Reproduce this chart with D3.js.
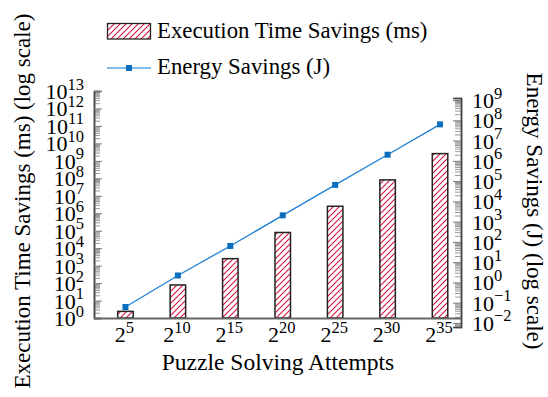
<!DOCTYPE html>
<html>
<head>
<meta charset="utf-8">
<script src="https://cdn.jsdelivr.net/npm/d3@7"></script>
<style>
  body { margin: 0; background: #fff; }
  svg { font-family: "Liberation Serif", "DejaVu Serif", serif; }
</style>
</head>
<body>
<div id="chart"></div>
<script>
// exponents of the attempt counts (2^n)
const attempts = [5, 10, 15, 20, 25, 30, 35];
const timeSavings = [2.4, 78, 2500, 79000, 2.5e6, 8.1e7, 2.6e9];
const energySavings = [0.061, 2.2, 63, 2040, 65000, 2.0e6, 6.3e7];
const leftTickExp = d3.range(0, 14);
const rightTickExp = d3.range(-2, 10);

const width = 548, height = 397;
const hatchColor = "#d4163f";
const lineColor = "#1f7fd4";
const markColor = "#0a6ebd";

let svg = d3.select("#chart").append("svg")
    .attr("width", width)
    .attr("height", height);

let defs = svg.append("defs");
let pat = defs.append("pattern")
    .attr("id", "hatch")
    .attr("patternUnits", "userSpaceOnUse")
    .attr("width", 6)
    .attr("height", 6);
pat.append("rect").attr("width", 6).attr("height", 6).attr("fill", "#fff");
pat.append("path")
    .attr("d", "M-1,1 l2,-2 M0,6 l6,-6 M5,7 l2,-2")
    .attr("fill", "none")
    .attr("stroke", hatchColor)
    .attr("stroke-width", 1.1);

let x = d3.scaleLinear().domain([2, 37]).range([94, 461]);
let yL = d3.scaleLog().domain([1, 1e13]).range([318, 91]);
let yR = d3.scaleLog().domain([Math.pow(10, -2.2), Math.pow(10, 9.1)]).range([327, 98]);

function minorTicks(lo, hi) {
    let out = [];
    for (let e = lo; e < hi; e++) {
        for (let m = 2; m <= 9; m++) out.push(m * Math.pow(10, e));
    }
    return out;
}

// left axis (ticks inward)
let gl = svg.append("g").attr("transform", "translate(94,0)");
gl.call(d3.axisRight(yL).tickValues(minorTicks(0, 13)).tickSize(6).tickFormat(""));
gl.selectAll(".tick line").attr("stroke", "#999");
let glm = svg.append("g").attr("transform", "translate(94,0)");
glm.call(d3.axisRight(yL).tickValues(leftTickExp.map(e => Math.pow(10, e))).tickSize(8).tickFormat(""));
glm.selectAll(".tick line").attr("stroke", "#777");

// right axis (ticks inward)
let gr = svg.append("g").attr("transform", "translate(461,0)");
gr.call(d3.axisLeft(yR).tickValues(minorTicks(-3, 9).filter(v => v > yR.domain()[0] && v < yR.domain()[1])).tickSize(6).tickFormat(""));
gr.selectAll(".tick line").attr("stroke", "#999");
let grm = svg.append("g").attr("transform", "translate(461,0)");
grm.call(d3.axisLeft(yR).tickValues(rightTickExp.map(e => Math.pow(10, e))).tickSize(8).tickFormat(""));
grm.selectAll(".tick line").attr("stroke", "#777");
svg.selectAll(".domain").attr("stroke", "#444").attr("stroke-width", 1.5);

// tick labels
let labL = svg.append("g").attr("fill", "#000");
labL.selectAll("text").data(leftTickExp).enter().append("text")
    .attr("x", 84)
    .attr("y", d => yL(Math.pow(10, d)) + 8)
    .attr("text-anchor", "end")
    .attr("font-size", 22)
    .each(function(d) {
        let t = d3.select(this);
        t.append("tspan").text("10");
        t.append("tspan").attr("font-size", 16.5).attr("dy", -9.5).text(d);
    });

let labR = svg.append("g").attr("fill", "#000");
labR.selectAll("text").data(rightTickExp).enter().append("text")
    .attr("x", 472)
    .attr("y", d => yR(Math.pow(10, d)) + 8)
    .attr("text-anchor", "start")
    .attr("font-size", 22)
    .each(function(d) {
        let t = d3.select(this);
        t.append("tspan").text("10");
        t.append("tspan").attr("font-size", 16.5).attr("dy", -9.5).text(d < 0 ? "\u2212" + (-d) : d);
    });

// bars
let barW = 15.5;
svg.selectAll(".bar").data(attempts).enter().append("rect")
    .attr("class", "bar")
    .attr("x", d => x(d) - barW / 2)
    .attr("y", (d, i) => yL(timeSavings[i]))
    .attr("width", barW)
    .attr("height", (d, i) => yL(1) - yL(timeSavings[i]))
    .attr("fill", "url(#hatch)")
    .attr("stroke", "#222")
    .attr("stroke-width", 1.5);

// x axis line
svg.append("line")
    .attr("x1", 94).attr("x2", 461)
    .attr("y1", 318.5).attr("y2", 318.5)
    .attr("stroke", "#666")
    .attr("stroke-width", 2);

// x tick labels
svg.selectAll(".xlab").data(attempts).enter().append("text")
    .attr("class", "xlab")
    .attr("x", d => x(d) - 1)
    .attr("y", 342)
    .attr("text-anchor", "middle")
    .attr("font-size", 22)
    .each(function(d) {
        let t = d3.select(this);
        t.append("tspan").text("2");
        t.append("tspan").attr("font-size", 16.5).attr("dy", -9.5).text(d);
    });

// energy line
let line = d3.line()
    .x(d => x(d))
    .y((d, i) => yR(energySavings[i]));
svg.append("path")
    .datum(attempts)
    .attr("d", line)
    .attr("fill", "none")
    .attr("stroke", lineColor)
    .attr("stroke-width", 1.3);
svg.selectAll(".mark").data(attempts).enter().append("rect")
    .attr("class", "mark")
    .attr("x", d => x(d) - 3)
    .attr("y", (d, i) => yR(energySavings[i]) - 3)
    .attr("width", 6)
    .attr("height", 6)
    .attr("fill", markColor);

// axis titles
svg.append("text")
    .attr("x", 278)
    .attr("y", 370)
    .attr("text-anchor", "middle")
    .attr("font-size", 23.5)
    .text("Puzzle Solving Attempts");

svg.append("text")
    .attr("transform", "translate(22,201) rotate(-90)")
    .attr("text-anchor", "middle")
    .attr("dominant-baseline", "central")
    .attr("font-size", 23)
    .text("Execution Time Savings (ms) (log scale)");

svg.append("text")
    .attr("transform", "translate(534,211) rotate(90)")
    .attr("text-anchor", "middle")
    .attr("dominant-baseline", "central")
    .attr("font-size", 23)
    .text("Energy Savings (J) (log scale)");

// legend
svg.append("rect")
    .attr("x", 107.5).attr("y", 23.5)
    .attr("width", 43).attr("height", 15.5)
    .attr("fill", "url(#hatch)")
    .attr("stroke", "#222")
    .attr("stroke-width", 1.3);
svg.append("text")
    .attr("x", 157).attr("y", 38)
    .attr("font-size", 22.8)
    .text("Execution Time Savings (ms)");

svg.append("line")
    .attr("x1", 107).attr("x2", 151)
    .attr("y1", 68).attr("y2", 68)
    .attr("stroke", "#5aa7e6")
    .attr("stroke-width", 1.5);
svg.append("rect")
    .attr("x", 126).attr("y", 65)
    .attr("width", 6).attr("height", 6)
    .attr("fill", markColor);
svg.append("text")
    .attr("x", 157).attr("y", 74)
    .attr("font-size", 22.8)
    .text("Energy Savings (J)");
</script>
</body>
</html>
